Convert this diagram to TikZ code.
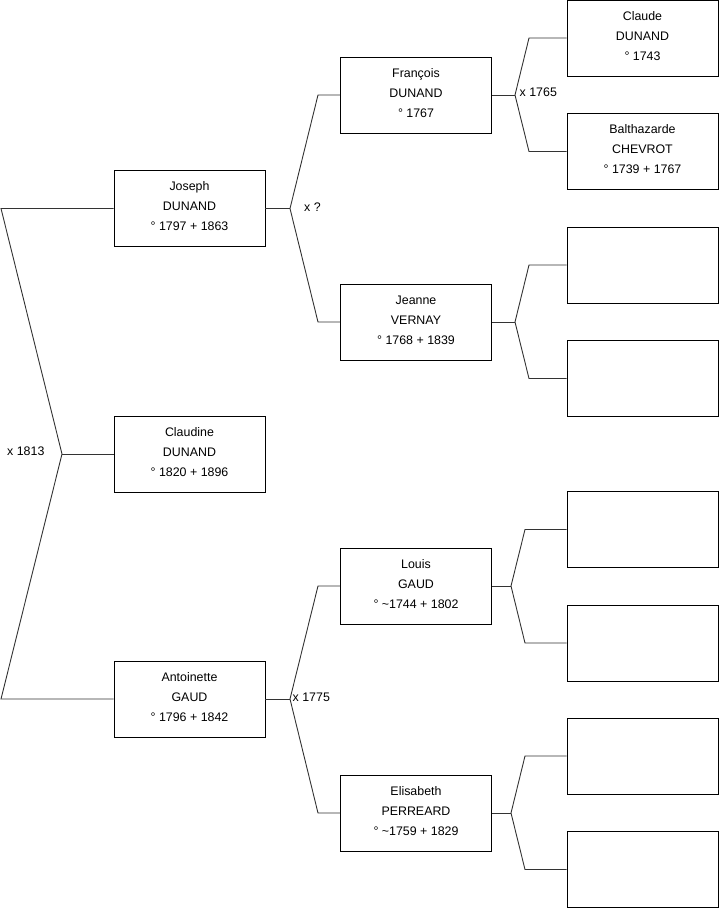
\documentclass[tikz,border=0pt]{standalone}
\usepackage{fontspec}
\setmainfont{Liberation Sans}
\usetikzlibrary{positioning,calc}
\definecolor{Ink}{HTML}{000000}
\definecolor{Wire}{HTML}{333333}
\newcommand{\who}[3]{\raisebox{2pt}[\height][\depth]{\begin{tabular}{@{}c@{}}#1\\#2\\#3\end{tabular}}}
\tikzset{person/.style={draw=Ink,fill=white,line width=0.9pt,
    minimum width=151pt,minimum height=76pt,inner sep=0pt,
    font=\fontsize{12.4}{20}\selectfont,text=Ink},
  emptybox/.style={person},
  link/.style={draw=Wire,line width=0.9pt,line join=miter},
  union/.style={font=\fontsize{12.4}{16}\selectfont,text=Ink,inner sep=0pt,anchor=west}}

\begin{document}
\begin{tikzpicture}[x=1pt,y=-1pt]
    \useasboundingbox (0,0) rectangle (719,908);
    % first generation
    \node[person] (joseph) at (189.5,208.5) {\who{Joseph}{DUNAND}{° 1797 + 1863}};
    \node[person] (claudine) at (189.5,454) {\who{Claudine}{DUNAND}{° 1820 + 1896}};
    \node[person] (antoinette) at (189.5,699) {\who{Antoinette}{GAUD}{° 1796 + 1842}};
    % parents
    \node[person] (francois) at (416,95) {\who{François}{DUNAND}{° 1767}};
    \node[person] (jeanne) at (416,322) {\who{Jeanne}{VERNAY}{° 1768 + 1839}};
    \node[person] (louis) at (416,586) {\who{Louis}{GAUD}{° \textasciitilde1744 + 1802}};
    \node[person] (elisabeth) at (416,813) {\who{Elisabeth}{PERREARD}{° \textasciitilde1759 + 1829}};
    % grand parents
    \node[person] (claude) at (642.5,38) {\who{Claude}{DUNAND}{° 1743}};
    \node[person] (balthazarde) at (642.5,151.5) {\who{Balthazarde}{CHEVROT}{° 1739 + 1767}};
    \node[emptybox] (jeanneF) at (642.5,265) {};
    \node[emptybox] (jeanneM) at (642.5,378.5) {};
    \node[emptybox] (louisF) at (642.5,529.5) {};
    \node[emptybox] (louisM) at (642.5,643) {};
    \node[emptybox] (elisabethF) at (642.5,756) {};
    \node[emptybox] (elisabethM) at (642.5,869.5) {};

    % junctions
    \coordinate (jClaudine) at (62,454);
    \coordinate (jJoseph) at (290,208.5);
    \coordinate (jAntoinette) at (290,699);
    \coordinate (jFrancois) at (515,95);
    \coordinate (jJeanne) at (515,322);
    \coordinate (jLouis) at (511,586);
    \coordinate (jElisabeth) at (511,813);

    \draw[link] (claudine.west) -- (jClaudine);
    \draw[link] (jClaudine) -- (1,208.5) -- (joseph.west);
    \draw[link] (jClaudine) -- (1,699) -- (antoinette.west);

    \draw[link] (joseph.east) -- (jJoseph);
    \draw[link] (jJoseph) -- (318,95) -- (francois.west);
    \draw[link] (jJoseph) -- (318,322) -- (jeanne.west);
    \draw[link] (antoinette.east) -- (jAntoinette);
    \draw[link] (jAntoinette) -- (318,586) -- (louis.west);
    \draw[link] (jAntoinette) -- (318,813) -- (elisabeth.west);

    \draw[link] (francois.east) -- (jFrancois);
    \draw[link] (jFrancois) -- (529,38) -- (claude.west);
    \draw[link] (jFrancois) -- (529,151.5) -- (balthazarde.west);
    \draw[link] (jeanne.east) -- (jJeanne);
    \draw[link] (jJeanne) -- (529,265) -- (jeanneF.west);
    \draw[link] (jJeanne) -- (529,378.5) -- (jeanneM.west);
    \draw[link] (louis.east) -- (jLouis);
    \draw[link] (jLouis) -- (525,529.5) -- (louisF.west);
    \draw[link] (jLouis) -- (525,643) -- (louisM.west);
    \draw[link] (elisabeth.east) -- (jElisabeth);
    \draw[link] (jElisabeth) -- (525,756) -- (elisabethF.west);
    \draw[link] (jElisabeth) -- (525,869.5) -- (elisabethM.west);

    % marriages
    \node[union] (mClaudine) at (7,451) {x 1813};
    \node[union] (mJoseph) at (304,207) {x ?};
    \node[union] (mAntoinette) at (292.5,697) {x 1775};
    \node[union] (mFrancois) at (519.5,92) {x 1765};
  \end{tikzpicture}
\end{document}
